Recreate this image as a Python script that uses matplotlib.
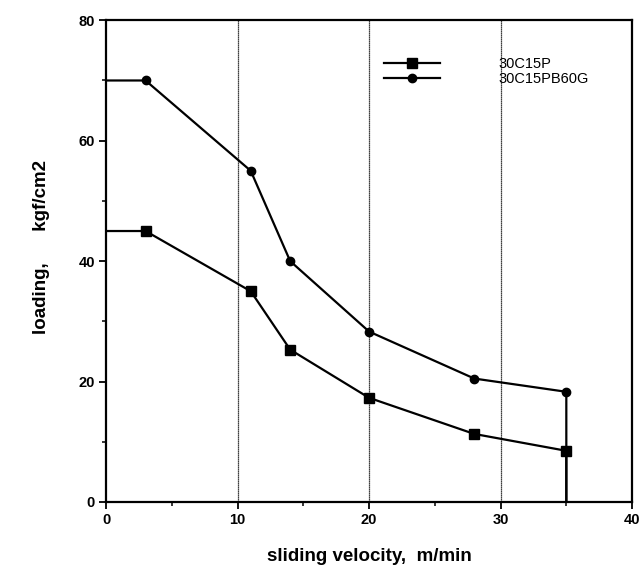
import matplotlib.pyplot as plt
import numpy as np

# sliding velocity (m/min); first point at 0 and last at 35/0 are unmarked line ends
vel = [0, 3, 11, 14, 20, 28, 35, 35]
load_p = [45, 45, 35, 25.3, 17.3, 11.3, 8.5, 0]
load_pg = [70, 70, 55, 40, 28.3, 20.5, 18.3, 0]
names = ["30C15P", "30C15PB60G"]

plt.rcParams['font.family'] = ['Liberation Sans', 'DejaVu Sans']

fig = plt.figure(figsize=(6.43, 5.79), dpi=100)
ax = fig.add_axes([0.165, 0.133, 0.818, 0.832])

for x in [10, 20, 30]:
    ax.axvline(x, color='black', linewidth=0.9, linestyle=(0, (1, 0.6)), zorder=1)

ax.plot(vel, load_p, color='black', linewidth=1.6, marker='s', markersize=6.5,
        markevery=[1, 2, 3, 4, 5, 6], label=names[0], zorder=3)
ax.plot(vel, load_pg, color='black', linewidth=1.6, marker='o', markersize=6,
        markevery=[1, 2, 3, 4, 5, 6], label=names[1], zorder=3)

ax.set_xlim(0, 40)
ax.set_ylim(0, 80)
ax.set_xticks([0, 10, 20, 30, 40])
ax.set_xticks([5, 15, 25, 35], minor=True)
ax.set_yticks([0, 20, 40, 60, 80])
ax.set_yticks([10, 30, 50, 70], minor=True)
ax.tick_params(which='major', direction='out', length=5, width=1.3, labelsize=10.5, pad=3)
ax.tick_params(which='minor', direction='out', length=3, width=1.1)
for lab in ax.get_xticklabels() + ax.get_yticklabels():
    lab.set_fontweight('bold')
for s in ax.spines.values():
    s.set_linewidth(1.6)

ax.set_xlabel("sliding velocity,  m/min", fontsize=13.5, fontweight='bold', labelpad=15)
ax.set_ylabel("loading,      kgf/cm2", fontsize=13.5, fontweight='bold')
ax.yaxis.set_label_coords(-0.106, 0.53)

ax.legend(loc='upper left', bbox_to_anchor=(0.504, 0.95), frameon=False, fontsize=10.5,
          handlelength=3.8, handletextpad=4.0, labelspacing=0.05)

fig.savefig("out.png", dpi=100)
